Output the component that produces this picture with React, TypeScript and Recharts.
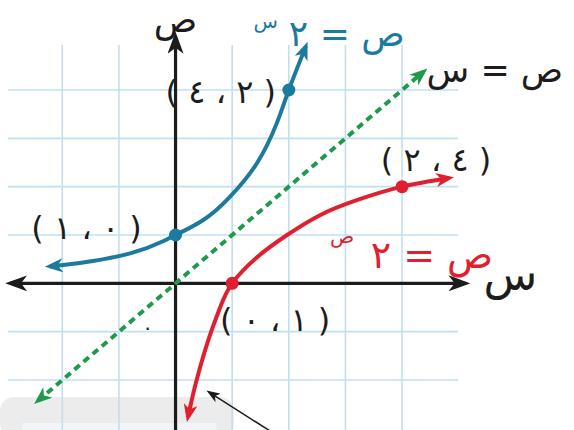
import { ComposedChart, Line, XAxis, YAxis, ReferenceLine, ReferenceDot, ReferenceArea } from 'recharts';

// Graph paper: integer grid lines drawn inside the window
const gridTicks = [-2, -1, 0, 1, 2, 3, 4];

// y = 2^x  (blue)
const expCurve = [
  { x: -2.22, y: 0.35 },
  { x: -1.69, y: 0.42 },
  { x: -0.8, y: 0.62 },
  { x: -0.22, y: 0.87 },
  { x: 0, y: 1 },
  { x: 0.49, y: 1.31 },
  { x: 0.96, y: 1.79 },
  { x: 1.44, y: 2.49 },
  { x: 1.79, y: 3.32 },
  { x: 2, y: 4 },
  { x: 2.3, y: 4.9 },
];

// x = 2^y  (red)
const logCurve = [
  { x: 0.22, y: -2.77 },
  { x: 0.34, y: -2.15 },
  { x: 0.56, y: -1.24 },
  { x: 0.79, y: -0.49 },
  { x: 1, y: 0 },
  { x: 1.44, y: 0.54 },
  { x: 1.97, y: 1.0 },
  { x: 2.55, y: 1.41 },
  { x: 3.2, y: 1.72 },
  { x: 4, y: 2 },
  { x: 4.83, y: 2.18 },
];

// y = x  (green, dashed)
const identityLine = [
  { x: -2.43, y: -2.43 },
  { x: 4.38, y: 4.38 },
];

const expPoints = [
  { x: 0, y: 1 },
  { x: 2, y: 4 },
];
const expPointLabels = ['( ٠ ، ١ )', '( ٢ ، ٤ )'];

const logPoints = [
  { x: 1, y: 0 },
  { x: 4, y: 2 },
];
const logPointLabels = ['( ١ ، ٠ )', '( ٤ ، ٢ )'];

const xAxisLine = [
  { x: -2.92, y: 0 },
  { x: 5.12, y: 0 },
];
const yAxisLine = [
  { x: 0, y: -3.2 },
  { x: 0, y: 5.1 },
];
const pointerLine = [
  { x: 1.81, y: -3.16 },
  { x: 0.59, y: -2.25 },
];

const BLUE = '#1b7a9e';
const RED = '#e0202e';
const GREEN = '#1f9a4c';
const INK = '#1c1c1c';
const GRID = '#c2dff0';
const FONT = '"DejaVu Sans", sans-serif';

// draws a text on the reference dot, shifted by dx/dy pixels
const textAt =
  (text: string, color: string, size: number, dx = 0, dy = 0, anchor = 'middle') =>
  (props: any) =>
    (
      <text
        x={props.cx + dx}
        y={props.cy + dy}
        textAnchor={anchor}
        dominantBaseline="central"
        fill={color}
        fontSize={size}
        fontFamily={FONT}
      >
        {text}
      </text>
    );

const arrowMarker = (id: string, color: string, w: number, h: number, ref: number) => (
  <marker
    id={id}
    viewBox={`0 0 ${w} ${h}`}
    refX={ref}
    refY={h / 2}
    markerWidth={w}
    markerHeight={h}
    markerUnits="userSpaceOnUse"
    orient="auto-start-reverse"
  >
    <path d={`M0,0 L${w},${h / 2} L0,${h} L${w * 0.28},${h / 2} Z`} fill={color} />
  </marker>
);

const expOffsets = [
  [-89, -7],
  [-68, 2],
];
const logOffsets = [
  [43, 37],
  [34, -27],
];

export default function App() {
  return (
    <div style={{ position: 'absolute', left: 0, top: 0, width: 574, height: 430, overflow: 'hidden', background: '#fff' }}>
      <ComposedChart width={574} height={440} margin={{ top: 32, right: 104, bottom: 2, left: 0 }}>
        <defs>
          {arrowMarker('arrowInk', INK, 22, 16, 17)}
          {arrowMarker('arrowBlue', BLUE, 18, 14, 13)}
          {arrowMarker('arrowRed', RED, 18, 14, 13)}
          {arrowMarker('arrowGreen', GREEN, 18, 14, 13)}
          {arrowMarker('arrowThin', INK, 14, 10, 11)}
        </defs>

        <XAxis type="number" dataKey="x" domain={[-3.1, 5.2]} hide />
        <YAxis type="number" dataKey="y" domain={[-3.2, 5.2]} hide />

        {gridTicks.map((t) => (
          <ReferenceLine
            key={`h${t}`}
            segment={[{ x: -2.96, y: t }, { x: 4.99, y: t }]}
            stroke={GRID}
            strokeWidth={1.6}
            ifOverflow="visible"
          />
        ))}
        {gridTicks.map((t) => (
          <ReferenceLine
            key={`v${t}`}
            segment={[{ x: t, y: -3.2 }, { x: t, y: 4.93 }]}
            stroke={GRID}
            strokeWidth={1.6}
            ifOverflow="visible"
          />
        ))}

        {/* faded panel along the bottom edge */}
        <ReferenceArea x1={-3.1} x2={1.03} y1={-3.2} y2={-2.35} fill="#e4e4e4" fillOpacity={0.7} stroke="none" radius={14} ifOverflow="visible" />
        <ReferenceArea x1={-2.71} x2={0.72} y1={-3.2} y2={-2.89} fill="#f3f6f9" fillOpacity={0.9} stroke="none" ifOverflow="visible" />

        <Line data={xAxisLine} dataKey="y" type="linear" stroke={INK} strokeWidth={3.2} dot={false} isAnimationActive={false}
          markerStart="url(#arrowInk)" markerEnd="url(#arrowInk)" />
        <Line data={yAxisLine} dataKey="y" type="linear" stroke={INK} strokeWidth={3.2} dot={false} isAnimationActive={false}
          markerEnd="url(#arrowInk)" />

        <Line data={identityLine} dataKey="y" type="linear" stroke={GREEN} strokeWidth={4} strokeDasharray="7 5" dot={false}
          isAnimationActive={false} markerStart="url(#arrowGreen)" markerEnd="url(#arrowGreen)" />
        <Line data={expCurve} dataKey="y" type="natural" stroke={BLUE} strokeWidth={4} dot={false} isAnimationActive={false}
          markerStart="url(#arrowBlue)" markerEnd="url(#arrowBlue)" />
        <Line data={logCurve} dataKey="y" type="natural" stroke={RED} strokeWidth={4} dot={false} isAnimationActive={false}
          markerStart="url(#arrowRed)" markerEnd="url(#arrowRed)" />

        <Line data={pointerLine} dataKey="y" type="linear" stroke={INK} strokeWidth={1.5} dot={false} isAnimationActive={false}
          markerEnd="url(#arrowThin)" />

        <Line data={expPoints} dataKey="y" stroke="none" isAnimationActive={false} dot={{ r: 6.5, fill: BLUE, stroke: 'none' }} />
        <Line data={logPoints} dataKey="y" stroke="none" isAnimationActive={false} dot={{ r: 6.5, fill: RED, stroke: 'none' }} />

        {expPoints.map((p, i) => (
          <ReferenceDot key={`el${i}`} x={p.x} y={p.y} ifOverflow="visible"
            shape={textAt(expPointLabels[i], INK, 32, expOffsets[i][0], expOffsets[i][1])} />
        ))}
        {logPoints.map((p, i) => (
          <ReferenceDot key={`ll${i}`} x={p.x} y={p.y} ifOverflow="visible"
            shape={textAt(logPointLabels[i], INK, 32, logOffsets[i][0], logOffsets[i][1])} />
        ))}

        {/* origin mark */}
        <ReferenceDot x={0} y={0} ifOverflow="visible" shape={textAt('٠', INK, 20, -28, 44)} />

        {/* axis names */}
        <ReferenceDot x={0} y={5.1} ifOverflow="visible" shape={textAt('ص', INK, 36, 0, -17)} />
        <ReferenceDot x={5.12} y={0} ifOverflow="visible" shape={textAt('س', INK, 44, 45, -9)} />

        {/* equations */}
        <ReferenceDot x={2.3} y={4.9} ifOverflow="visible" shape={textAt('ص = ٢', BLUE, 36, 99, -13, 'end')} />
        <ReferenceDot x={2.3} y={4.9} ifOverflow="visible" shape={textAt('س', BLUE, 20, -40, -26)} />
        <ReferenceDot x={4.38} y={4.38} ifOverflow="visible" shape={textAt('ص = س', INK, 35, 3, -2, 'start')} />
        <ReferenceDot x={4} y={2} ifOverflow="visible" shape={textAt('ص = ٢', RED, 38, 91, 68, 'end')} />
        <ReferenceDot x={4} y={2} ifOverflow="visible" shape={textAt('ص', RED, 20, -60, 49)} />
      </ComposedChart>
    </div>
  );
}
